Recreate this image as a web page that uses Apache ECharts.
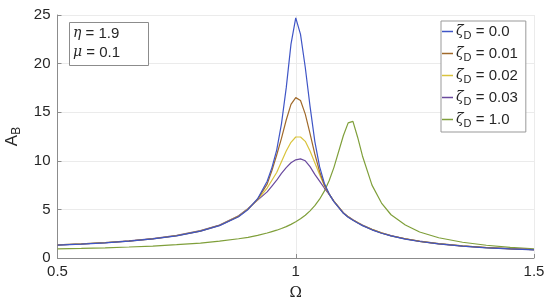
<!DOCTYPE html>
<html>
<head>
<meta charset="utf-8">
<script src="https://cdn.jsdelivr.net/npm/echarts@6/dist/echarts.min.js"></script>
<style>
  html, body { margin: 0; padding: 0; background: #fff; }
  #chart { width: 550px; height: 305px; }
</style>
</head>
<body>
<div id="chart"></div>
<script>
// frequency ratio Omega
var omega = [0.5,0.55,0.6,0.65,0.7,0.75,0.8,0.84,0.88,0.9,0.92,0.94,0.95,0.96,0.97,0.98,0.99,1.0,1.01,1.02,1.03,1.04,1.05,1.06,1.07,1.08,1.1,1.11,1.12,1.13,1.14,1.16,1.18,1.2,1.23,1.26,1.3,1.35,1.4,1.45,1.5];
// A_B for each zeta_D
var zeta00 = [1.33,1.43,1.56,1.73,1.96,2.28,2.76,3.33,4.25,5.0,6.1,7.9,9.3,11.1,13.8,17.5,22.0,24.7,23.0,19.6,15.6,12.0,9.4,7.7,6.6,5.8,4.6,4.2,3.88,3.6,3.33,2.9,2.55,2.27,1.95,1.7,1.45,1.22,1.05,0.93,0.84];
var zeta01 = [1.34,1.44,1.57,1.74,1.97,2.29,2.77,3.35,4.28,5.03,6.05,7.6,9.0,10.6,12.3,14.2,15.8,16.5,16.2,14.8,12.8,10.7,8.9,7.5,6.6,5.82,4.62,4.22,3.9,3.62,3.35,2.92,2.57,2.28,1.96,1.71,1.46,1.23,1.06,0.94,0.85];
var zeta02 = [1.35,1.45,1.58,1.75,1.98,2.3,2.79,3.37,4.31,5.06,6.0,7.2,8.0,8.8,9.9,11.0,11.9,12.45,12.45,12.0,11.0,9.8,8.6,7.45,6.6,5.84,4.64,4.24,3.92,3.64,3.37,2.94,2.58,2.29,1.97,1.72,1.47,1.24,1.07,0.95,0.86];
var zeta03 = [1.36,1.46,1.59,1.76,1.99,2.32,2.81,3.4,4.35,5.1,5.95,6.8,7.4,8.0,8.7,9.3,9.8,10.1,10.2,10.0,9.4,8.6,7.9,7.2,6.55,5.86,4.66,4.26,3.94,3.66,3.39,2.95,2.59,2.3,1.98,1.73,1.48,1.25,1.08,0.96,0.87];
var zeta10 = [0.94,0.99,1.05,1.13,1.23,1.37,1.54,1.73,1.98,2.13,2.32,2.57,2.72,2.86,3.03,3.23,3.46,3.72,4.03,4.4,4.85,5.38,6.05,6.88,7.95,9.3,12.6,13.9,14.05,12.4,10.5,7.5,5.65,4.45,3.4,2.67,2.08,1.62,1.31,1.09,0.93];

var zetaNames = ['0.0', '0.01', '0.02', '0.03', '1.0'];
var colors = ['#3f55c6', '#a0692a', '#d9c33c', '#6a4a9e', '#7f9f3a'];

var font = 'Liberation Sans, Arial, Helvetica, sans-serif';

function pairs(ys) {
  var out = [];
  for (var i = 0; i < omega.length; i++) out.push([omega[i], ys[i]]);
  return out;
}

var allData = [zeta00, zeta01, zeta02, zeta03, zeta10];
var series = [];
for (var k = 0; k < allData.length; k++) {
  series.push({
    name: zetaNames[k],
    type: 'line',
    data: pairs(allData[k]),
    symbol: 'none',
    smooth: false,
    lineStyle: { width: 1.2, color: colors[k] },
    itemStyle: { color: colors[k] },
    z: 10 - k
  });
}

var myChart = echarts.init(document.getElementById('chart'));
var option = {
  animation: false,
  backgroundColor: '#fff',
  grid: { left: 57.5, right: 16, top: 15, bottom: 47, containLabel: false, outerBoundsMode: 'none' },
  xAxis: {
    type: 'value',
    min: 0.5, max: 1.5, interval: 0.5,
    name: 'Ω',
    nameLocation: 'middle',
    nameGap: 28,
    nameTextStyle: { fontFamily: 'DejaVu Serif, Liberation Serif, serif', fontSize: 15, color: '#262626' },
    axisLine: { lineStyle: { color: '#8c8c8c', width: 1 } },
    axisTick: { show: true, inside: true, length: 4, lineStyle: { color: '#8c8c8c' } },
    axisLabel: { fontFamily: font, fontSize: 15, color: '#262626', margin: 6,
      formatter: function (v) { return String(v); } },
    splitLine: { show: true, lineStyle: { color: '#ebebeb', width: 1 } }
  },
  yAxis: {
    type: 'value',
    min: 0, max: 25, interval: 5,
    name: '{a|A}{b|B}',
    nameLocation: 'middle',
    nameGap: 35,
    nameRotate: 90,
    nameTextStyle: {
      color: '#262626',
      rich: {
        a: { fontFamily: font, fontSize: 17, color: '#262626' },
        b: { fontFamily: font, fontSize: 12, color: '#262626', padding: [9, 0, 0, 0] }
      }
    },
    axisLine: { show: true, lineStyle: { color: '#8c8c8c', width: 1 } },
    axisTick: { show: true, inside: true, length: 4, lineStyle: { color: '#8c8c8c' } },
    axisLabel: { fontFamily: font, fontSize: 15, color: '#262626', margin: 7 },
    splitLine: { show: true, lineStyle: { color: '#ebebeb', width: 1 } }
  },
  legend: {
    orient: 'vertical',
    left: 441,
    top: 21,
    width: 87,
    icon: 'rect',
    itemWidth: 11,
    itemHeight: 1.5,
    itemGap: 5,
    padding: [3, 8, 3, 1],
    borderColor: '#999',
    borderWidth: 1,
    backgroundColor: '#fff',
    data: zetaNames,
    formatter: function (name) { return '{z|ζ}{s|D}{t| = ' + name + '}'; },
    textStyle: {
      color: '#262626',
      padding: [0, 0, 0, -2],
      rich: {
        z: { fontFamily: 'DejaVu Serif, serif', fontStyle: 'italic', fontSize: 14, color: '#262626' },
        s: { fontFamily: font, fontSize: 11, color: '#262626', padding: [8, 0, 0, 0] },
        t: { fontFamily: font, fontSize: 15, color: '#262626' }
      }
    }
  },
  graphic: [
    {
      type: 'rect',
      shape: { x: 69.5, y: 22.5, width: 79, height: 43 },
      style: { fill: '#fff', stroke: '#8c8c8c', lineWidth: 1 },
      z: 50
    },
    {
      type: 'text',
      left: 73, top: 26, z: 51,
      style: {
        text: '{g|η}{t| = 1.9}',
        rich: {
          g: { fontFamily: 'DejaVu Serif, serif', fontStyle: 'italic', fontSize: 14, fill: '#262626' },
          t: { fontFamily: font, fontSize: 15, fill: '#262626' }
        }
      }
    },
    {
      type: 'text',
      left: 73, top: 45, z: 51,
      style: {
        text: '{g|μ}{t| = 0.1}',
        rich: {
          g: { fontFamily: 'DejaVu Serif, serif', fontStyle: 'italic', fontSize: 14, fill: '#262626' },
          t: { fontFamily: font, fontSize: 15, fill: '#262626' }
        }
      }
    }
  ],
  series: series
};
myChart.setOption(option);
</script>
</body>
</html>
